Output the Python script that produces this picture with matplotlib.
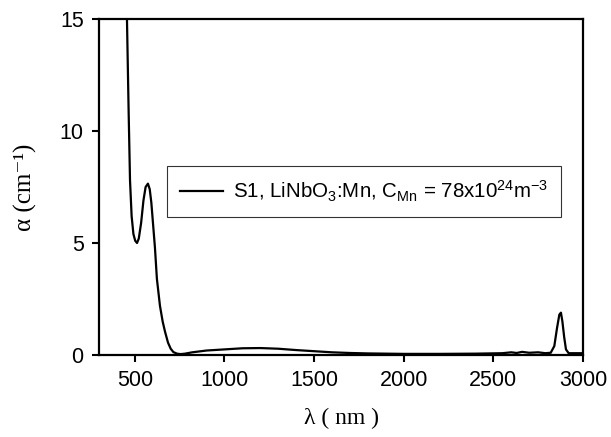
import matplotlib
matplotlib.use('Agg')
import matplotlib.pyplot as plt

plt.rcParams['font.family'] = ['Liberation Sans', 'DejaVu Sans']
plt.rcParams['mathtext.fontset'] = 'custom'
plt.rcParams['mathtext.rm'] = 'Liberation Sans'
plt.rcParams['mathtext.it'] = 'Liberation Sans:italic'

# wavelength (nm) and absorption coefficient (cm^-1)
wavelength = [450, 456, 465, 473, 482, 492, 502, 512, 522, 535, 548, 560, 573,
              583, 592, 600, 612, 623, 640, 655, 668, 685, 700, 715, 735, 755,
              780, 820, 900, 1000, 1100, 1200, 1300, 1400, 1500, 1600, 1700,
              1800, 2000, 2200, 2400, 2550, 2600, 2630, 2660, 2700, 2750, 2790,
              2820, 2840, 2855, 2868, 2877, 2885, 2895, 2905, 2920, 3000]
alpha = [16.5, 15.0, 11.0, 7.8, 6.2, 5.4, 5.1, 5.0, 5.2, 5.9, 6.9, 7.5, 7.65,
         7.4, 6.8, 6.0, 4.8, 3.4, 2.2, 1.5, 1.05, 0.55, 0.28, 0.13, 0.06, 0.04,
         0.06, 0.12, 0.2, 0.25, 0.3, 0.31, 0.28, 0.22, 0.17, 0.12, 0.09,
         0.07, 0.05, 0.05, 0.06, 0.08, 0.12, 0.09, 0.14, 0.1, 0.12, 0.08,
         0.1, 0.4, 1.2, 1.8, 1.89, 1.5, 0.8, 0.25, 0.08, 0.08]

x_ticks = [500, 1000, 1500, 2000, 2500, 3000]
y_ticks = [0, 5, 10, 15]
legend_label = r'S1, LiNbO$_3$:Mn, C$_{\mathrm{Mn}}$ = 78x10$^{24}$m$^{-3}$'

fig = plt.figure(figsize=(6.11, 4.37), dpi=100)
ax = fig.add_axes([99 / 611, 1 - 355 / 437, 484 / 611, 336 / 437])

ax.plot(wavelength, alpha, color='black', linewidth=1.6, label=legend_label)

ax.set_xlim(300, 3000)
ax.set_ylim(0, 15)
ax.set_xticks(x_ticks)
ax.set_yticks(y_ticks)
ax.tick_params(direction='out', length=5, width=1.5, labelsize=15.5, pad=6)
for s in ax.spines.values():
    s.set_linewidth(1.6)

serif = ['Liberation Serif', 'DejaVu Serif']
ax.set_xlabel('λ ( nm )', fontsize=17, family=serif, labelpad=12)
ax.set_ylabel('α (cm⁻¹)', fontsize=18, family=serif, labelpad=16)

leg = ax.legend(loc='upper left', bbox_to_anchor=(167 / 611, 1 - 166 / 437),
                bbox_transform=fig.transFigure, fontsize=14.8, frameon=True,
                fancybox=False, handlelength=2.1, borderpad=0.62,
                handletextpad=0.5, borderaxespad=0)
leg.get_frame().set_edgecolor('black')
leg.get_frame().set_linewidth(0.8)

fig.savefig('out.png', dpi=100)
